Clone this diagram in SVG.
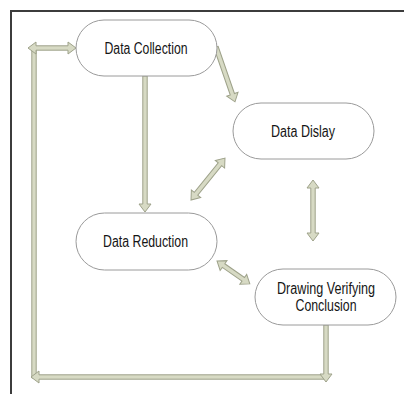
<svg xmlns="http://www.w3.org/2000/svg" width="404" height="394" viewBox="0 0 404 394">
<style>
.node{fill:#fff;stroke:#9a9a9a;stroke-width:1}
.lbl{font-family:"Liberation Sans",Arial,sans-serif;font-size:16px;fill:#151515;text-anchor:middle}
.arr{fill:#d7dac4;stroke:#9ea28a;stroke-width:1;stroke-linejoin:miter}
</style>
<rect width="404" height="394" fill="#fff"/>
<path d="M11,394 V11 H404" fill="none" stroke="#3c3c3c" stroke-width="2"/>
<g id="connectors">
<path class="arr" transform="translate(34,378) rotate(-90)" d="M0,-2.2 H328 V2.2 H0 Z"/>
<path class="arr" transform="translate(326,377) rotate(180)" d="M0,-2.2 H287 V-6 L295,0 L287,6 V2.2 H0 Z"/>
<path class="arr" transform="translate(28,48)" d="M0,0 L8,-6 V-2.2 H40 V-6 L48,0 L40,6 V2.2 H8 V6 Z"/>
<path class="arr" transform="translate(326,325) rotate(90)" d="M0,-2.2 H49 V-6 L57,0 L49,6 V2.2 H0 Z"/>
<path class="arr" transform="translate(145,76) rotate(90)" d="M0,-2.2 H128 V-6 L136,0 L128,6 V2.2 H0 Z"/>
<path class="arr" transform="translate(216,47) rotate(70.9)" d="M0,-2.2 H50 V-6 L58,0 L50,6 V2.2 H0 Z"/>
<path class="arr" transform="translate(191,200) rotate(-51)" d="M0,0 L8,-6 V-2.2 H46 V-6 L54,0 L46,6 V2.2 H8 V6 Z"/>
<path class="arr" transform="translate(313,180) rotate(90)" d="M0,0 L8,-6 V-2.2 H53 V-6 L61,0 L53,6 V2.2 H8 V6 Z"/>
<path class="arr" transform="translate(217,261) rotate(34.9)" d="M0,0 L8,-6 V-2.2 H32 V-6 L40,0 L32,6 V2.2 H8 V6 Z"/>
</g>
<g id="data-collection">
<rect class="node" x="76" y="20" width="141" height="56" rx="28"/>
<text class="lbl" x="146" y="54" textLength="83" lengthAdjust="spacingAndGlyphs">Data Collection</text>
</g>
<g id="data-dislay">
<rect class="node" x="233" y="103" width="141" height="56" rx="28"/>
<text class="lbl" x="303" y="136.5" textLength="64" lengthAdjust="spacingAndGlyphs">Data Dislay</text>
</g>
<g id="data-reduction">
<rect class="node" x="76" y="213" width="141" height="57" rx="28.5"/>
<text class="lbl" x="145.5" y="247" textLength="85" lengthAdjust="spacingAndGlyphs">Data Reduction</text>
</g>
<g id="drawing-verifying-conclusion">
<rect class="node" x="255" y="269" width="141" height="56" rx="28"/>
<text class="lbl" x="326" y="293.5" textLength="98" lengthAdjust="spacingAndGlyphs">Drawing Verifying</text>
<text class="lbl" x="326" y="311" textLength="61" lengthAdjust="spacingAndGlyphs">Conclusion</text>
</g>
</svg>
